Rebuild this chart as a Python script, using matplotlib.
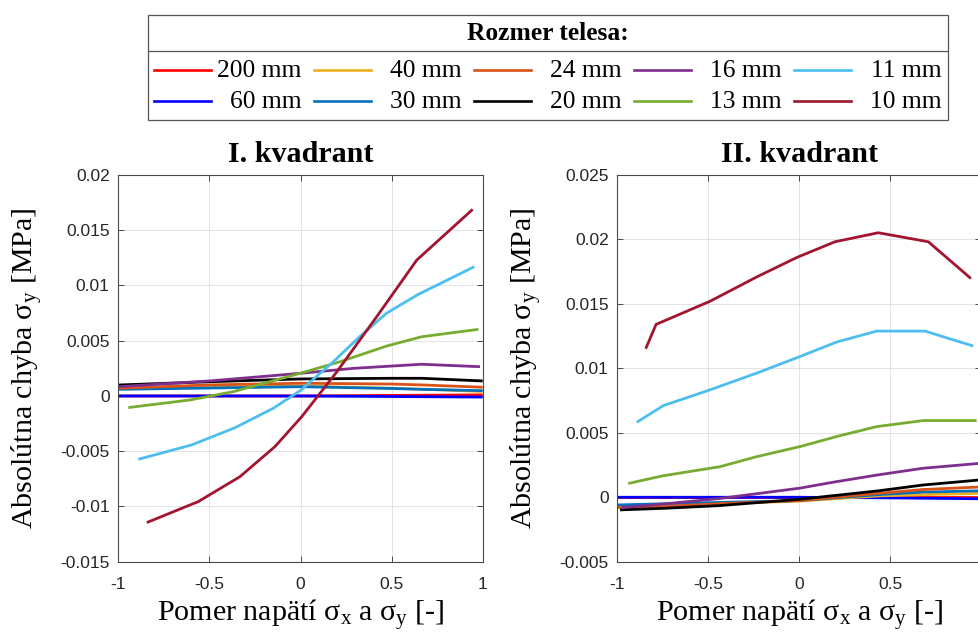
import matplotlib
matplotlib.use("Agg")
import matplotlib.pyplot as plt
from matplotlib.lines import Line2D
from matplotlib.patches import Rectangle

plt.rcParams['mathtext.fontset'] = 'custom'
plt.rcParams['mathtext.rm'] = 'Liberation Serif'
plt.rcParams['mathtext.it'] = 'Liberation Serif:italic'
plt.rcParams['mathtext.bf'] = 'Liberation Serif:bold'

# ---------------- data ----------------
sizes = ['200 mm', '60 mm', '40 mm', '30 mm', '24 mm', '20 mm', '16 mm', '13 mm', '11 mm', '10 mm']
colors = ['#FF0000', '#0000FF', '#EDB120', '#0072BD', '#D95319',
          '#000000', '#7E2F8E', '#77AC30', '#4DBEEE', '#A2142F']

# Quadrant I
q1_x_200 = [-1, -0.5, 0, 0.5, 1]
q1_y_200 = [0.0, 0.0, 0.0, 0.00005, 0.0001]
q1_x_60 = [-1, -0.5, 0, 0.5, 1]
q1_y_60 = [0.0, 0.0, 0.0, -0.00005, -0.0001]
q1_x_40 = [-1, -0.5, 0, 0.5, 0.7, 1]
q1_y_40 = [0.0007, 0.0008, 0.0009, 0.0007, 0.0006, 0.0004]
q1_x_30 = [-1, -0.5, 0, 0.5, 0.665, 1]
q1_y_30 = [0.0006, 0.00072, 0.00084, 0.00068, 0.0006, 0.00048]
q1_x_24 = [-1, -0.5, 0, 0.5, 0.665, 1]
q1_y_24 = [0.0007, 0.001, 0.00115, 0.00108, 0.001, 0.00079]
q1_x_20 = [-1, -0.5, 0, 0.5, 0.665, 1]
q1_y_20 = [0.00099, 0.00129, 0.00154, 0.0016, 0.0016, 0.00136]
q1_x_16 = [-1, -0.5, 0, 0.29, 0.665, 0.985]
q1_y_16 = [0.00084, 0.00136, 0.00205, 0.0025, 0.00287, 0.00265]
q1_x_13 = [-0.945, -0.606, -0.369, -0.002, 0.217, 0.473, 0.665, 0.976]
q1_y_13 = [-0.00105, -0.00036, 0.00039, 0.00205, 0.0031, 0.00452, 0.00536, 0.00603]
q1_x_11 = [-0.89, -0.597, -0.359, -0.149, 0.0, 0.18, 0.327, 0.473, 0.647, 0.954]
q1_y_11 = [-0.00573, -0.00443, -0.00287, -0.00111, 0.0005, 0.0031, 0.0054, 0.0075, 0.0092, 0.0117]
q1_x_10 = [-0.844, -0.561, -0.332, -0.14, 0.007, 0.2, 0.418, 0.638, 0.945]
q1_y_10 = [-0.01146, -0.00956, -0.0073, -0.00458, -0.00187, 0.0022, 0.00717, 0.0123, 0.01689]

# Quadrant II
q2_x_200 = [-1, -0.5, 0, 0.5, 1]
q2_y_200 = [0.0, 0.0, 0.0, 0.0, 0.0]
q2_x_60 = [-1, -0.5, 0, 0.5, 1]
q2_y_60 = [0.0, 0.0, 0.0, -0.00005, -0.00012]
q2_x_40 = [-1, -0.73, -0.44, 0, 0.43, 0.68, 1]
q2_y_40 = [-0.0007, -0.0006, -0.0005, -0.0003, 0.0001, 0.0002, 0.0003]
q2_x_30 = [-1, -0.73, -0.44, 0, 0.43, 0.68, 1]
q2_y_30 = [-0.0006, -0.0005, -0.0004, -0.00026, 0.0002, 0.0004, 0.0005]
q2_x_24 = [-1, -0.73, -0.44, 0, 0.43, 0.68, 1]
q2_y_24 = [-0.0008, -0.0007, -0.0005, -0.00026, 0.0003, 0.0006, 0.0008]
q2_x_20 = [-0.985, -0.73, -0.44, 0, 0.43, 0.68, 0.99]
q2_y_20 = [-0.00098, -0.00085, -0.00065, -0.00016, 0.00049, 0.00095, 0.00134]
q2_x_16 = [-0.975, -0.73, -0.44, 0, 0.2, 0.43, 0.68, 1.0]
q2_y_16 = [-0.0008, -0.0005, -0.0001, 0.0007, 0.0012, 0.00173, 0.00225, 0.00264]
q2_x_13 = [-0.94, -0.747, -0.436, -0.234, 0.004, 0.224, 0.425, 0.681, 0.974]
q2_y_13 = [0.00107, 0.00167, 0.00237, 0.00315, 0.00393, 0.00478, 0.00548, 0.00595, 0.00595]
q2_x_11 = [-0.893, -0.747, -0.491, -0.234, -0.014, 0.205, 0.425, 0.691, 0.956]
q2_y_11 = [0.00582, 0.00711, 0.00833, 0.00963, 0.01082, 0.01204, 0.01289, 0.01289, 0.01173]
q2_x_10 = [-0.844, -0.787, -0.491, -0.234, -0.014, 0.196, 0.434, 0.709, 0.943]
q2_y_10 = [0.01152, 0.01341, 0.0152, 0.01709, 0.0186, 0.01982, 0.02052, 0.01982, 0.01697]

q1_series = [(q1_x_200, q1_y_200), (q1_x_60, q1_y_60), (q1_x_40, q1_y_40), (q1_x_30, q1_y_30),
             (q1_x_24, q1_y_24), (q1_x_20, q1_y_20), (q1_x_16, q1_y_16), (q1_x_13, q1_y_13),
             (q1_x_11, q1_y_11), (q1_x_10, q1_y_10)]
q2_series = [(q2_x_200, q2_y_200), (q2_x_60, q2_y_60), (q2_x_40, q2_y_40), (q2_x_30, q2_y_30),
             (q2_x_24, q2_y_24), (q2_x_20, q2_y_20), (q2_x_16, q2_y_16), (q2_x_13, q2_y_13),
             (q2_x_11, q2_y_11), (q2_x_10, q2_y_10)]

titles = ['I. kvadrant', 'II. kvadrant']
x_ticks = [-1, -0.5, 0, 0.5, 1]
x_ticklabels = ['-1', '-0.5', '0', '0.5', '1']
q1_yticks = [-0.015, -0.01, -0.005, 0, 0.005, 0.01, 0.015, 0.02]
q1_yticklabels = ['-0.015', '-0.01', '-0.005', '0', '0.005', '0.01', '0.015', '0.02']
q2_yticks = [-0.005, 0, 0.005, 0.01, 0.015, 0.02, 0.025]
q2_yticklabels = ['-0.005', '0', '0.005', '0.01', '0.015', '0.02', '0.025']
xlabel = 'Pomer napätí σ$_{\\mathrm{x}}$ a σ$_{\\mathrm{y}}$ [-]'
ylabel = 'Absolútna chyba σ$_{\\mathrm{y}}$ [MPa]'
legend_title = 'Rozmer telesa:'

# ---------------- figure ----------------
W, H = 979, 639
fig = plt.figure(figsize=(W / 100, H / 100), dpi=100)

serif = 'Liberation Serif'
sans = 'Liberation Sans'
spine_col = '#4a4a4a'

def px_rect(x0, y0, x1, y1):
    return [x0 / W, 1 - y1 / H, (x1 - x0) / W, (y1 - y0) / H]

ax1 = fig.add_axes(px_rect(118.3, 175, 482.7, 561.7))
ax2 = fig.add_axes(px_rect(617.3, 175, 981.3, 561.7))

for ax, series, title, yt, ytl, ylim in [
        (ax1, q1_series, titles[0], q1_yticks, q1_yticklabels, (-0.015, 0.02)),
        (ax2, q2_series, titles[1], q2_yticks, q2_yticklabels, (-0.005, 0.025))]:
    for (xs, ys), c in zip(series, colors):
        ax.plot(xs, ys, color=c, lw=2.0, solid_joinstyle='miter', solid_capstyle='butt')
    ax.set_xlim(-1, 1)
    ax.set_ylim(*ylim)
    ax.set_xticks(x_ticks)
    ax.set_xticklabels(x_ticklabels)
    ax.set_yticks(yt)
    ax.set_yticklabels(ytl)
    ax.grid(True, color='#dedede', lw=0.6)
    ax.set_axisbelow(True)
    ax.tick_params(direction='in', top=True, right=True, length=4, width=0.7,
                   color=spine_col, labelcolor='#262626', labelsize=12.5, pad=11)
    ax.tick_params(axis='y', pad=6.2)
    for lab in ax.get_xticklabels() + ax.get_yticklabels():
        lab.set_family(sans)
    for sp in ax.spines.values():
        sp.set_color(spine_col)
        sp.set_linewidth(0.8)
    ax.set_title(title, family=serif, fontsize=21.6, fontweight='bold', pad=9.6)
    ax.set_xlabel(xlabel, family=serif, fontsize=21.6, labelpad=4.5)
    ax.set_ylabel(ylabel, family=serif, fontsize=21.6)

ax1.yaxis.set_label_coords(-0.2, 0.5)
ax2.yaxis.set_label_coords(-0.2, 0.5)

# ---------------- legend box ----------------
lx0, ly0, lx1, ly1 = 148.3, 15, 948.3, 120
lax = fig.add_axes(px_rect(lx0, ly0, lx1, ly1))
lax.set_xlim(0, lx1 - lx0)
lax.set_ylim(ly1 - ly0, 0)
lax.axis('off')
lax.add_patch(Rectangle((0, 0), lx1 - lx0, ly1 - ly0, fill=False, ec='#555555', lw=0.9,
                        clip_on=False))
lax.add_line(Line2D([0, lx1 - lx0], [36, 36], color='#555555', lw=0.9))
lax.text((lx1 - lx0) / 2, 19, legend_title, family=serif, fontsize=18.4, fontweight='bold',
         ha='center', va='center')
row_y = [55, 86]
for i, (lab, c) in enumerate(zip(sizes, colors)):
    col, row = divmod(i, 2)
    x0 = 5.7 + 160 * col
    lax.add_line(Line2D([x0, x0 + 56.7], [row_y[row], row_y[row]], color=c, lw=1.9))
    lax.text(153.4 + 160 * col, row_y[row] + 1, lab, family=serif, fontsize=18.4,
             ha='right', va='center')

fig.savefig('out.png', dpi=100)
